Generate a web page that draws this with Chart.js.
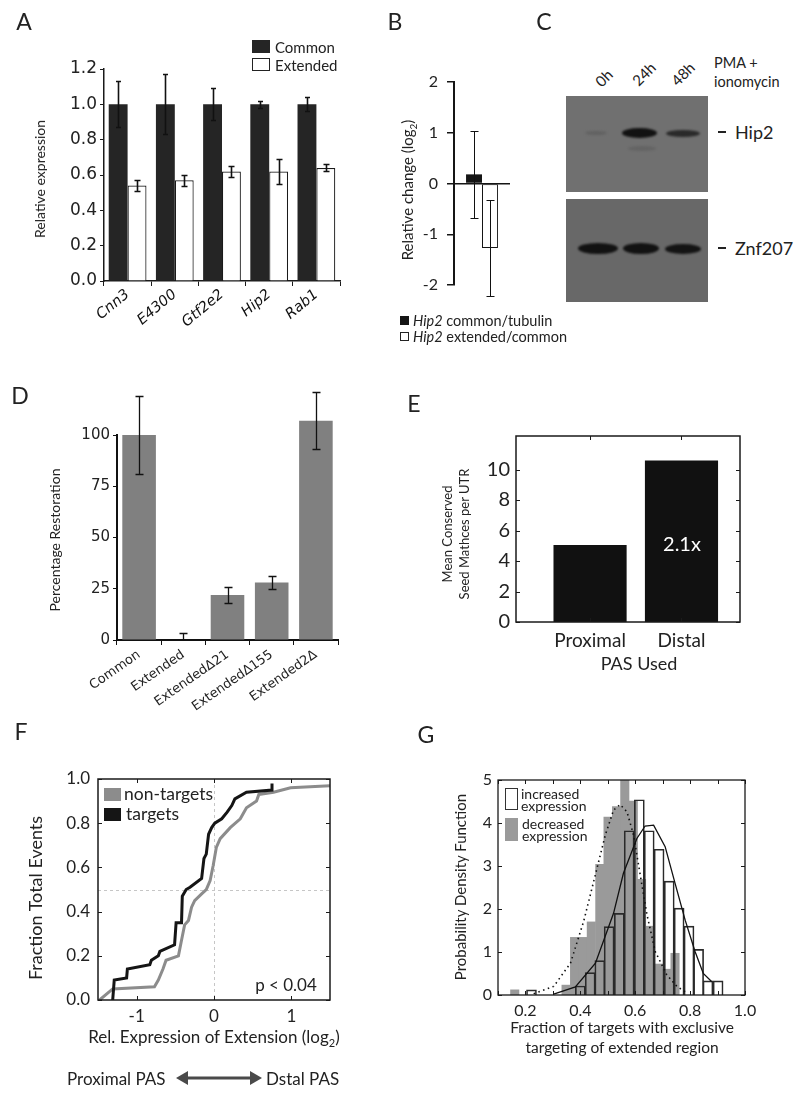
<!DOCTYPE html>
<html>
<head>
<meta charset="utf-8">
<script src="https://cdn.jsdelivr.net/npm/chart.js@4.4.0/dist/chart.umd.min.js"></script>
<style>
  body { margin: 0; background: #fff; }
  #fig { position: relative; width: 800px; height: 1102px; overflow: hidden; font-family: Lato, sans-serif; color: #222; }
  #fig canvas { position: absolute; }
  .t { position: absolute; white-space: nowrap; line-height: 1; }
  .c { transform: translate(-50%, -50%); }
  .l { transform: translateY(-50%); }
  .rv { transform: translate(-50%, -50%) rotate(-90deg); text-align: center; }
  .r45 { transform: translate(-50%, -50%) rotate(-45deg); }
  .panel { font-size: 23px; }
  .sw { position: absolute; box-sizing: border-box; }
  .blot { position: absolute; }
  .band { position: absolute; border-radius: 50%; filter: blur(1.3px); }
</style>
</head>
<body>
<div id="fig">
  <canvas id="chartA" width="360" height="330" style="left:0;top:0"></canvas>
  <canvas id="chartB" width="200" height="310" style="left:360px;top:0"></canvas>
  <canvas id="chartD" width="360" height="400" style="left:0;top:330px"></canvas>
  <canvas id="chartE" width="360" height="290" style="left:400px;top:400px"></canvas>
  <canvas id="chartF" width="360" height="300" style="left:0;top:740px"></canvas>
  <canvas id="chartG" width="370" height="290" style="left:400px;top:740px"></canvas>

  <!-- panel letters -->
  <div class="t c panel" style="left:24px;top:21px">A</div>
  <div class="t c panel" style="left:395px;top:21px">B</div>
  <div class="t c panel" style="left:544px;top:21px">C</div>
  <div class="t c panel" style="left:20px;top:395px">D</div>
  <div class="t c panel" style="left:414px;top:403px">E</div>
  <div class="t c panel" style="left:21px;top:731px">F</div>
  <div class="t c panel" style="left:426px;top:734px">G</div>

  <!-- A -->
  <div class="sw" style="left:252px;top:40px;width:18px;height:13px;background:#252525"></div>
  <div class="sw" style="left:252px;top:58px;width:18px;height:13px;border:1px solid #222;background:#fff"></div>
  <div class="t l" style="left:275px;top:47px;font-size:15px">Common</div>
  <div class="t l" style="left:275px;top:65px;font-size:15px">Extended</div>
  <div class="t rv" style="left:40px;top:179px;font-size:14px">Relative expression</div>

  <!-- B -->
  <div class="t rv" style="left:409px;top:190px;font-size:15px">Relative change (log<sub style="font-size:10px">2</sub>)</div>
  <div class="sw" style="left:400px;top:316px;width:9px;height:9px;background:#151515"></div>
  <div class="t l" style="left:413px;top:321px;font-size:14.5px"><i>Hip2</i> common/tubulin</div>
  <div class="sw" style="left:400px;top:332px;width:9px;height:9px;border:1px solid #222"></div>
  <div class="t l" style="left:413px;top:337px;font-size:14.5px"><i>Hip2</i> extended/common</div>

  <!-- C : western blot -->
  <div class="t r45" style="left:604px;top:78px;font-size:15px">0h</div>
  <div class="t r45" style="left:644px;top:74px;font-size:15px">24h</div>
  <div class="t r45" style="left:683px;top:74px;font-size:15px">48h</div>
  <div class="t l" style="left:714px;top:63px;font-size:14.5px">PMA +</div>
  <div class="t l" style="left:714px;top:82px;font-size:14.5px">ionomycin</div>
  <div class="blot" style="left:566px;top:96px;width:142px;height:96px;background:#707070"></div>
  <div class="blot" style="left:566px;top:199px;width:142px;height:103px;background:#686868"></div>
  <div class="band" style="left:585px;top:131px;width:22px;height:4px;background:#626262"></div>
  <div class="band" style="left:622px;top:128px;width:35px;height:10px;background:#121212"></div>
  <div class="band" style="left:628px;top:146px;width:28px;height:5px;background:#646464"></div>
  <div class="band" style="left:666px;top:130px;width:34px;height:7px;background:#2a2a2a"></div>
  <div class="band" style="left:578px;top:243px;width:40px;height:11px;background:#121212"></div>
  <div class="band" style="left:623px;top:243px;width:36px;height:11px;background:#121212"></div>
  <div class="band" style="left:665px;top:244px;width:36px;height:10px;background:#141414"></div>
  <div class="sw" style="left:718px;top:131px;width:8px;height:2px;background:#222"></div>
  <div class="t l" style="left:735px;top:132px;font-size:18px">Hip2</div>
  <div class="sw" style="left:718px;top:247px;width:8px;height:2px;background:#222"></div>
  <div class="t l" style="left:735px;top:248px;font-size:18px">Znf207</div>

  <!-- D -->
  <div class="t rv" style="left:55px;top:540px;font-size:14px">Percentage Restoration</div>

  <!-- E -->
  <div class="t rv" style="left:456px;top:534px;font-size:13px;line-height:17px">Mean Conserved<br>Seed Mathces per UTR</div>
  <div class="t c" style="left:682px;top:543px;font-size:20px;color:#fff">2.1x</div>
  <div class="t c" style="left:639px;top:663px;font-size:18px">PAS Used</div>

  <!-- F -->
  <div class="t rv" style="left:35px;top:898px;font-size:18px">Fraction Total Events</div>
  <div class="t c" style="left:214px;top:1038px;font-size:17px">Rel. Expression of Extension (log<sub style="font-size:11px">2</sub>)</div>
  <div class="sw" style="left:104px;top:788px;width:17px;height:13px;background:#8c8c8c"></div>
  <div class="t l" style="left:124px;top:794px;font-size:17.5px">non-targets</div>
  <div class="sw" style="left:104px;top:808px;width:17px;height:13px;background:#151515"></div>
  <div class="t l" style="left:126px;top:814px;font-size:17.5px">targets</div>
  <div class="t c" style="left:286px;top:984px;font-size:17px">p &lt; 0.04</div>
  <div class="t l" style="left:67px;top:1078px;font-size:17px">Proximal PAS</div>
  <svg style="position:absolute;left:176px;top:1070px" width="86" height="16">
    <line x1="10" y1="8" x2="76" y2="8" stroke="#4a4a4a" stroke-width="3"/>
    <polygon points="0,8 12,1 12,15" fill="#4a4a4a"/>
    <polygon points="86,8 74,1 74,15" fill="#4a4a4a"/>
  </svg>
  <div class="t l" style="left:266px;top:1078px;font-size:17px">Dstal PAS</div>

  <!-- G -->
  <div class="t rv" style="left:460px;top:887px;font-size:15px">Probability Density Function</div>
  <div class="t c" style="left:622px;top:1028px;font-size:15.5px">Fraction of targets with exclusive</div>
  <div class="t c" style="left:622px;top:1048px;font-size:15.5px">targeting of extended region</div>
  <div class="sw" style="left:505px;top:788px;width:13px;height:22px;border:1px solid #333;background:#fff"></div>
  <div class="t l" style="left:521px;top:794px;font-size:14px">increased</div>
  <div class="t l" style="left:521px;top:806px;font-size:14px">expression</div>
  <div class="sw" style="left:505px;top:818px;width:13px;height:23px;background:#9a9a9a"></div>
  <div class="t l" style="left:522px;top:824px;font-size:14px">decreased</div>
  <div class="t l" style="left:522px;top:836px;font-size:14px">expression</div>
</div>

<script>
// --- Panel A data ---
const genesA = ['Cnn3', 'E4300', 'Gtf2e2', 'Hip2', 'Rab1'];
const commonA = [1.0, 1.0, 1.0, 1.0, 1.0];
const commonErrA = [0.13, 0.17, 0.09, 0.02, 0.04];
const extendedA = [0.54, 0.57, 0.62, 0.62, 0.64];
const extendedErrA = [0.03, 0.03, 0.03, 0.07, 0.02];

// --- Panel B data ---
const hip2Change = [0.18, -1.27];      // common/tubulin, extended/common
const hip2ChangeErr = [0.85, 0.94];

// --- Panel D data ---
const constructsD = ['Common', 'Extended', 'ExtendedΔ21', 'ExtendedΔ155', 'Extended2Δ'];
const restorationD = [100, 0, 22, 28, 107];
const restorationErrD = [19, 3.4, 4, 3.3, 14];

// --- Panel E data ---
const pasUsed = ['Proximal', 'Distal'];
const seedMatches = [5.05, 10.6];

// --- Panel F data (cumulative fractions) ---
const relExprTicks = [-1, 0, 1];
const targetsX = [-1.31, -1.29, -1.13, -1.12, -0.83, -0.81, -0.72, -0.70, -0.51, -0.49, -0.42, -0.41, -0.36, -0.31, -0.16, -0.13, -0.10, -0.07, -0.03, 0.01, 0.10, 0.17, 0.23, 0.27, 0.42, 0.75, 0.75];
const targetsY = [0.00, 0.09, 0.10, 0.14, 0.16, 0.18, 0.20, 0.22, 0.25, 0.35, 0.35, 0.47, 0.50, 0.51, 0.55, 0.64, 0.66, 0.75, 0.78, 0.80, 0.82, 0.85, 0.88, 0.91, 0.94, 0.95, 0.98];
const nonTargetsX = [-1.48, -1.31, -0.77, -0.72, -0.66, -0.62, -0.46, -0.42, -0.38, -0.33, -0.29, -0.25, -0.16, -0.10, -0.05, -0.01, 0.03, 0.08, 0.21, 0.34, 0.42, 0.55, 0.58, 0.77, 0.99, 1.50];
const nonTargetsY = [0.00, 0.05, 0.06, 0.09, 0.14, 0.18, 0.20, 0.27, 0.34, 0.36, 0.42, 0.45, 0.48, 0.50, 0.54, 0.61, 0.69, 0.73, 0.78, 0.82, 0.87, 0.90, 0.93, 0.94, 0.96, 0.97];

// --- Panel G data (histogram bins + fitted curves) ---
const decBinX = [0.161, 0.348, 0.379, 0.409, 0.440, 0.471, 0.501, 0.532, 0.562, 0.593, 0.623, 0.654, 0.684, 0.715, 0.745];
const decBinY = [0.12, 0.23, 1.34, 1.34, 1.70, 3.04, 4.14, 4.38, 5.00, 4.51, 2.69, 1.60, 0.72, 0.60, 0.97];
const incBinX = [0.222, 0.400, 0.436, 0.471, 0.505, 0.542, 0.578, 0.615, 0.651, 0.687, 0.724, 0.760, 0.796, 0.831, 0.865, 0.902];
const incBinY = [0.12, 0.21, 0.52, 0.80, 1.59, 1.90, 3.82, 4.54, 3.82, 3.39, 2.65, 2.02, 1.60, 1.06, 0.33, 0.33];
const incFitX = [0.303, 0.382, 0.455, 0.521, 0.557, 0.606, 0.636, 0.667, 0.709, 0.745, 0.782, 0.818, 0.848, 0.879];
const incFitY = [0.02, 0.19, 0.74, 1.90, 2.83, 3.64, 3.93, 3.95, 3.45, 2.60, 1.74, 1.01, 0.50, 0.31];
const decFitX = [0.230, 0.303, 0.364, 0.412, 0.455, 0.491, 0.521, 0.545, 0.570, 0.594, 0.618, 0.643, 0.673, 0.715, 0.752, 0.788];
const decFitY = [0.03, 0.20, 0.74, 1.71, 2.80, 3.72, 4.30, 4.43, 4.26, 3.72, 2.80, 1.86, 1.01, 0.47, 0.20, 0.05];

// --- helpers ---
Chart.defaults.font.family = 'Lato';
Chart.defaults.color = '#222';
Chart.defaults.animation = false;
Chart.defaults.responsive = false;
Chart.defaults.plugins.legend.display = false;
Chart.defaults.plugins.tooltip.enabled = false;

const fixW = w => s => { s.width = w; };
const fixH = h => s => { s.height = h; };
const pts = (xs, ys) => xs.map((x, i) => ({ x: x, y: ys[i] }));
const verdana = size => ({ family: 'DejaVu Sans', size: size });
const myriad = size => ({ family: 'Lato', size: size });

// error bars drawn from dataset.errors through the y scale
const errorBars = {
    id: 'errorBars',
    afterDatasetsDraw(chart, args, opts) {
        const ctx = chart.ctx;
        ctx.save();
        if (opts.clipBottom) {
            ctx.beginPath();
            ctx.rect(0, 0, chart.width, chart.chartArea.bottom);
            ctx.clip();
        }
        chart.data.datasets.forEach((ds, di) => {
            if (!ds.errors) return;
            const meta = chart.getDatasetMeta(di);
            const yScale = chart.scales[meta.yAxisID];
            meta.data.forEach((bar, i) => {
                const v = ds.data[i], e = ds.errors[i];
                const x = Math.round(bar.x) + 0.5;
                const hi = Math.round(yScale.getPixelForValue(v + e)) + 0.5;
                const lo = Math.round(yScale.getPixelForValue(v - e)) + 0.5;
                const c = (ds.errorCap || 6) / 2;
                ctx.strokeStyle = ds.errorColor || '#111';
                ctx.lineWidth = ds.errorWidth || 1;
                ctx.beginPath();
                ctx.moveTo(x, hi); ctx.lineTo(x, lo);
                ctx.moveTo(x - c, hi); ctx.lineTo(x + c, hi);
                ctx.moveTo(x - c, lo); ctx.lineTo(x + c, lo);
                ctx.stroke();
            });
        });
        ctx.restore();
    }
};

// matlab style box with inward ticks, plus dashed reference lines
const framePlugin = {
    id: 'frame',
    beforeDatasetsDraw(chart, args, opts) {
        const { ctx, chartArea: a } = chart;
        const x = chart.scales.x, y = chart.scales.y;
        ctx.save();
        ctx.strokeStyle = '#c6c6c6';
        ctx.lineWidth = 1;
        ctx.setLineDash([3, 3]);
        ctx.beginPath();
        (opts.refX || []).forEach(v => {
            const p = Math.round(x.getPixelForValue(v)) + 0.5;
            ctx.moveTo(p, a.top); ctx.lineTo(p, a.bottom);
        });
        (opts.refY || []).forEach(v => {
            const p = Math.round(y.getPixelForValue(v)) + 0.5;
            ctx.moveTo(a.left, p); ctx.lineTo(a.right, p);
        });
        ctx.stroke();
        ctx.restore();
    },
    afterDatasetsDraw(chart, args, opts) {
        const { ctx, chartArea: a } = chart;
        const x = chart.scales.x, y = chart.scales.y;
        const len = opts.tickLen || 4;
        ctx.save();
        ctx.strokeStyle = '#1a1a1a';
        ctx.lineWidth = 1;
        ctx.beginPath();
        x.ticks.forEach(t => {
            const p = Math.round(x.getPixelForValue(t.value)) + 0.5;
            ctx.moveTo(p, a.bottom); ctx.lineTo(p, a.bottom - len);
            ctx.moveTo(p, a.top); ctx.lineTo(p, a.top + len);
        });
        y.ticks.forEach(t => {
            const p = Math.round(y.getPixelForValue(t.value)) + 0.5;
            ctx.moveTo(a.left, p); ctx.lineTo(a.left + len, p);
            ctx.moveTo(a.right, p); ctx.lineTo(a.right - len, p);
        });
        ctx.stroke();
        ctx.lineWidth = opts.lineWidth || 1.5;
        ctx.strokeRect(a.left, a.top, a.right - a.left, a.bottom - a.top);
        ctx.restore();
    }
};

const hidden = { display: false, drawTicks: false };

// --- A. Relative expression ---
new Chart(document.getElementById('chartA'), {
    type: 'bar',
    data: {
        labels: genesA,
        datasets: [
            { label: 'Common', data: commonA, errors: commonErrA, backgroundColor: '#252525', borderWidth: 0, errorWidth: 1.6, errorCap: 5 },
            { label: 'Extended', data: extendedA, errors: extendedErrA, backgroundColor: '#ffffff', borderColor: '#1a1a1a', borderWidth: 1.2, errorWidth: 1.6, errorCap: 6 }
        ]
    },
    options: {
        layout: { padding: { top: 69, right: 20, left: 0, bottom: 0 } },
        datasets: { bar: { categoryPercentage: 0.8, barPercentage: 1 } },
        scales: {
            x: {
                grid: { drawOnChartArea: false, offset: true, tickLength: 5, color: '#1a1a1a' },
                border: { color: '#1a1a1a', width: 1.5 },
                ticks: { autoSkip: false, minRotation: 40, maxRotation: 40, padding: 0, color: '#111', font: { family: 'DejaVu Sans', size: 14.5, style: 'italic' } },
                afterFit: fixH(49)
            },
            y: {
                min: 0, max: 1.2,
                grid: { drawOnChartArea: false, tickLength: 4, color: '#1a1a1a' },
                border: { color: '#1a1a1a', width: 1.5 },
                ticks: { stepSize: 0.2, padding: 3, font: verdana(17), callback: v => v.toFixed(1) },
                afterFit: fixW(104)
            }
        }
    },
    plugins: [errorBars]
});

// --- B. Relative change (log2) ---
new Chart(document.getElementById('chartB'), {
    type: 'bar',
    data: {
        labels: [''],
        datasets: [
            { data: [hip2Change[0]], errors: [hip2ChangeErr[0]], backgroundColor: '#151515', errorWidth: 1, errorCap: 8 },
            { data: [hip2Change[1]], errors: [hip2ChangeErr[1]], backgroundColor: '#ffffff', borderColor: '#151515', borderWidth: 1, borderSkipped: false, errorWidth: 1, errorCap: 8 }
        ]
    },
    options: {
        layout: { padding: { top: 82, right: 50, bottom: 25, left: 0 } },
        datasets: { bar: { categoryPercentage: 0.57, barPercentage: 1 } },
        scales: {
            x: { display: false },
            y: {
                min: -2, max: 2,
                ticks: { stepSize: 1, padding: 9, font: myriad(16) },
                grid: { color: c => c.tick.value === 0 ? '#151515' : 'rgba(0,0,0,0)', tickColor: '#151515', tickLength: 7, lineWidth: 1.5 },
                border: { color: '#151515', width: 2 },
                afterFit: fixW(94)
            }
        }
    },
    plugins: [errorBars]
});

// --- D. Percentage restoration ---
new Chart(document.getElementById('chartD'), {
    type: 'bar',
    data: {
        labels: constructsD,
        datasets: [
            { data: restorationD, errors: restorationErrD, backgroundColor: '#808080', borderWidth: 0, clip: false, errorWidth: 1.3, errorCap: 8 }
        ]
    },
    options: {
        layout: { padding: { top: 105, right: 22, left: 0, bottom: 0 } },
        datasets: { bar: { categoryPercentage: 0.76, barPercentage: 1 } },
        plugins: { errorBars: { clipBottom: true } },
        scales: {
            x: {
                grid: { drawOnChartArea: false, offset: true, tickLength: 5, color: '#111' },
                border: { color: '#111', width: 2 },
                ticks: { autoSkip: false, minRotation: 35, maxRotation: 35, padding: 2, color: '#222', font: verdana(13) },
                afterFit: fixH(90)
            },
            y: {
                min: 0, max: 100,
                grid: { drawOnChartArea: false, tickLength: 4, color: '#111' },
                border: { color: '#111', width: 2 },
                ticks: { stepSize: 25, padding: 3, font: verdana(15) },
                afterFit: fixW(117)
            }
        }
    },
    plugins: [errorBars]
});

// --- E. Mean conserved seed matches ---
new Chart(document.getElementById('chartE'), {
    type: 'bar',
    data: {
        datasets: [
            { data: pts(pasUsed.map((_, i) => i + 1), seedMatches), backgroundColor: '#111', borderWidth: 0, categoryPercentage: 0.8, barPercentage: 1 }
        ]
    },
    options: {
        layout: { padding: { top: 36, right: 20, left: 0, bottom: 0 } },
        plugins: { frame: { tickLen: 4, lineWidth: 1.5 } },
        scales: {
            x: {
                type: 'linear', min: 0.19, max: 2.64, offset: false,
                grid: hidden, border: { display: false },
                afterBuildTicks: s => { s.ticks = pasUsed.map((_, i) => ({ value: i + 1 })); },
                ticks: { callback: v => pasUsed[v - 1], padding: 7, font: myriad(19) },
                afterFit: fixH(68)
            },
            y: {
                min: 0, max: 12.2,
                grid: hidden, border: { display: false },
                afterBuildTicks: s => { s.ticks = s.ticks.filter(t => t.value <= 10); },
                ticks: { stepSize: 2, padding: 6, font: myriad(20) },
                afterFit: fixW(116)
            }
        }
    },
    plugins: [framePlugin]
});

// --- F. Cumulative fraction ---
new Chart(document.getElementById('chartF'), {
    type: 'line',
    data: {
        datasets: [
            { label: 'targets', data: pts(targetsX, targetsY), borderColor: '#151515', borderWidth: 3, pointRadius: 0, tension: 0, borderJoinStyle: 'miter' },
            { label: 'non-targets', data: pts(nonTargetsX, nonTargetsY), borderColor: '#8c8c8c', borderWidth: 3, pointRadius: 0, tension: 0, borderJoinStyle: 'miter' }
        ]
    },
    options: {
        layout: { padding: { top: 39, right: 30, left: 0, bottom: 0 } },
        plugins: { frame: { tickLen: 4, lineWidth: 1.5, refX: [0], refY: [0.5] } },
        scales: {
            x: {
                type: 'linear', min: -1.5, max: 1.5,
                grid: hidden, border: { display: false },
                afterBuildTicks: s => { s.ticks = relExprTicks.map(v => ({ value: v })); },
                ticks: { padding: 6, font: myriad(17) },
                afterFit: fixH(40)
            },
            y: {
                min: 0, max: 1,
                grid: hidden, border: { display: false },
                ticks: { stepSize: 0.2, padding: 8, font: myriad(17), callback: v => v.toFixed(1) },
                afterFit: fixW(98)
            }
        }
    },
    plugins: [framePlugin]
});

// --- G. Probability density ---
new Chart(document.getElementById('chartG'), {
    type: 'bar',
    data: {
        datasets: [
            { type: 'line', data: pts(incFitX, incFitY), borderColor: '#111', borderWidth: 1.3, pointRadius: 0, tension: 0, order: 0 },
            { type: 'line', data: pts(decFitX, decFitY), borderColor: '#111', borderWidth: 1.6, borderDash: [1.5, 3.5], pointRadius: 0, tension: 0, order: 0 },
            { data: pts(incBinX, incBinY), backgroundColor: 'rgba(255,255,255,0)', borderColor: '#2a2a2a', borderWidth: 1, barThickness: 10, grouped: false, order: 1 },
            { data: pts(decBinX, decBinY), backgroundColor: '#9a9a9a', borderWidth: 0, barThickness: 8.4, grouped: false, order: 2 }
        ]
    },
    options: {
        layout: { padding: { top: 40, right: 25, left: 0, bottom: 0 } },
        plugins: { frame: { tickLen: 4, lineWidth: 1.3 } },
        scales: {
            x: {
                type: 'linear', min: 0.1, max: 1.0, offset: false,
                grid: hidden, border: { display: false },
                ticks: { stepSize: 0.1, autoSkip: false, maxRotation: 0, padding: 6, font: myriad(16),
                         callback: v => (Math.round(v * 10) % 2 === 0 ? v.toFixed(1) : '') },
                afterFit: fixH(35)
            },
            y: {
                min: 0, max: 5,
                grid: hidden, border: { display: false },
                ticks: { stepSize: 1, padding: 6, font: myriad(16) },
                afterFit: fixW(98)
            }
        }
    },
    plugins: [framePlugin]
});
</script>
</body>
</html>
